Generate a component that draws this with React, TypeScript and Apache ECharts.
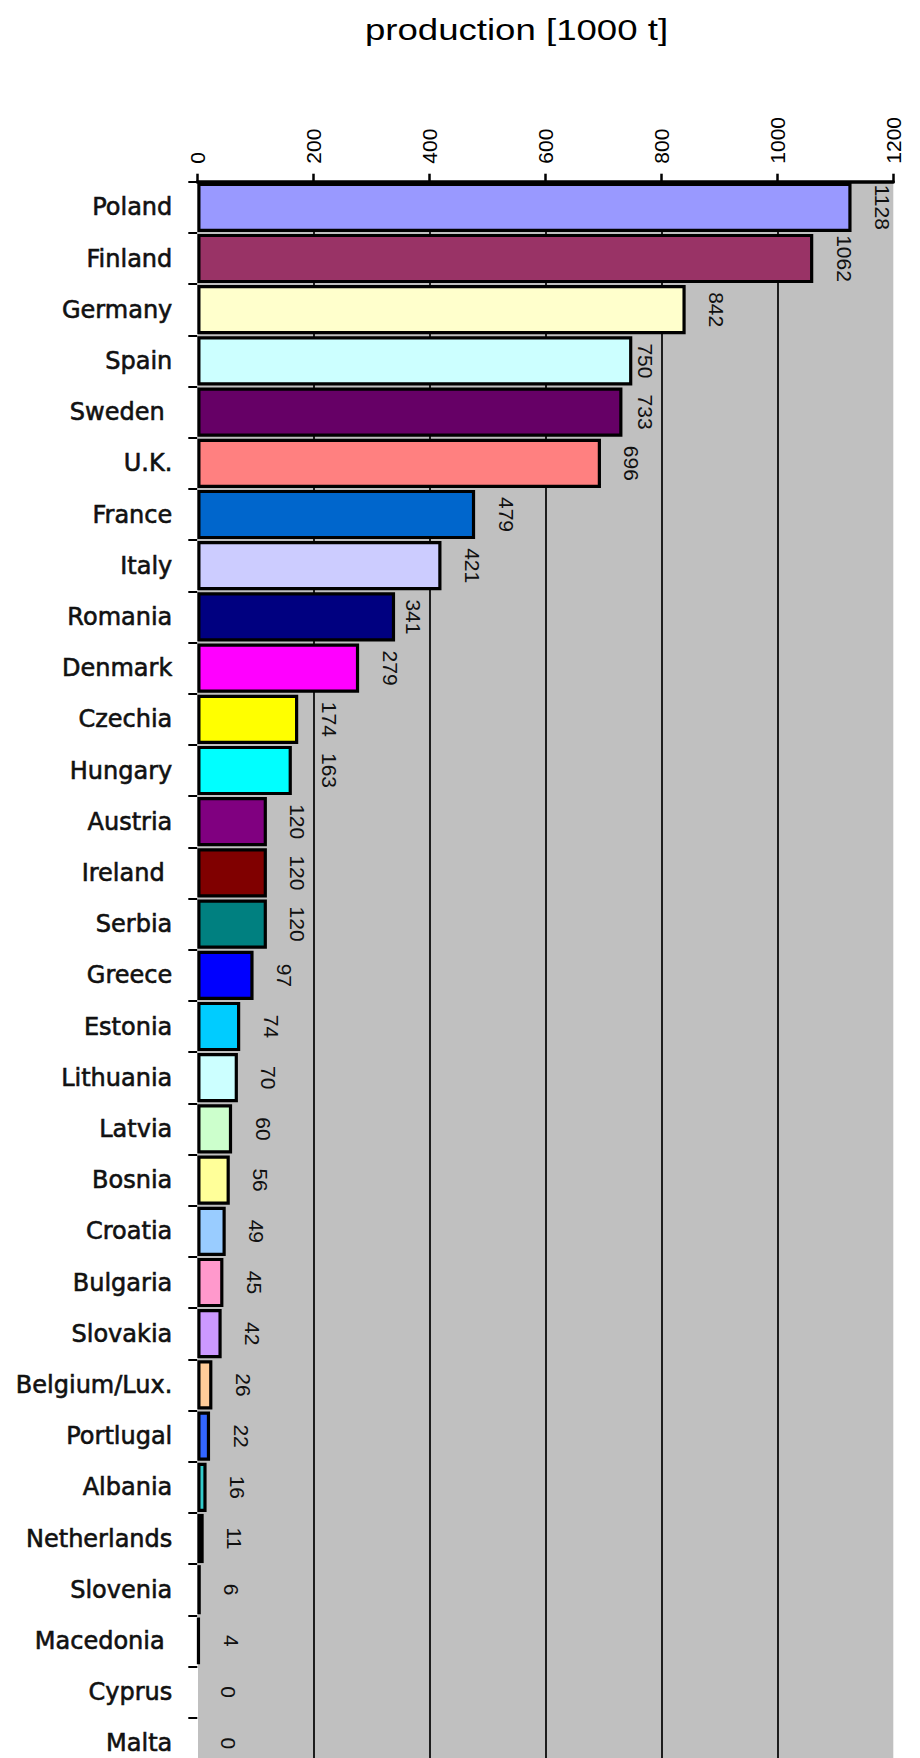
import React, { useEffect, useRef } from "react";
import * as echarts from "echarts";

const categories: string[] = [
  "Poland", "Finland", "Germany", "Spain", "Sweden ", "U.K.", "France", "Italy",
  "Romania", "Denmark", "Czechia", "Hungary", "Austria", "Ireland ", "Serbia",
  "Greece", "Estonia", "Lithuania", "Latvia", "Bosnia", "Croatia", "Bulgaria",
  "Slovakia", "Belgium/Lux.", "Portlugal", "Albania", "Netherlands", "Slovenia",
  "Macedonia ", "Cyprus", "Malta",
];

const values: number[] = [
  1128, 1062, 842, 750, 733, 696, 479, 421, 341, 279, 174, 163, 120, 120, 120,
  97, 74, 70, 60, 56, 49, 45, 42, 26, 22, 16, 11, 6, 4, 0, 0,
];

const colors: string[] = [
  "#9999ff", "#993366", "#ffffcc", "#ccffff", "#660066", "#ff8080", "#0066cc", "#ccccff",
  "#000080", "#ff00ff", "#ffff00", "#00ffff", "#800080", "#800000", "#008080",
  "#0000ff", "#00ccff", "#ccffff", "#ccffcc", "#ffff99", "#99ccff", "#ff99cc",
  "#cc99ff", "#ffcc99", "#3366ff", "#33cccc", "#99cc00", "#ffcc00",
  "#ff9900", "#ff6600", "#666699",
];

const xMin = 0;
const xMax = 1200;
const xInterval = 200;
const title = "production [1000 t]";

// layout constants (pixels)
const GRID_LEFT = 197.3;
const GRID_TOP = 181.7;
const GRID_WIDTH = 696;
const BAND = 51.2;
const LABEL_DIST = 31;

// keep value labels from sitting on a gridline (as the original software did)
function labelDistance(v: number): number {
  const pxPerUnit = GRID_WIDTH / (xMax - xMin);
  const center = (v - xMin) * pxPerUnit + LABEL_DIST;
  let best = LABEL_DIST;
  for (let g = xMin + xInterval; g < xMax; g += xInterval) {
    const gp = (g - xMin) * pxPerUnit;
    const diff = center - gp;
    if (Math.abs(diff) < 12) {
      const target = diff > 5 ? gp + 16 : gp - 16;
      best = target - (v - xMin) * pxPerUnit;
    }
  }
  return best;
}

export default function App() {
  const ref = useRef<HTMLDivElement>(null);

  useEffect(() => {
    if (!ref.current) return;
    const chart = echarts.init(ref.current, null, { renderer: "svg" });
    chart.setOption({
      animation: false,
      backgroundColor: "#ffffff",
      graphic: [
        {
          type: "text",
          x: 516.5,
          y: 30,
          scaleX: 1.22,
          style: {
            text: title,
            x: 0,
            y: 0,
            fontSize: 30,
            fontFamily: "'Liberation Sans', Arial, sans-serif",
            fill: "#000",
            align: "center",
            verticalAlign: "middle",
          },
        },
      ],
      grid: {
        left: GRID_LEFT,
        top: GRID_TOP,
        width: GRID_WIDTH,
        height: BAND * categories.length,
        show: true,
        backgroundColor: "#c0c0c0",
        borderWidth: 0,
        containLabel: false,
        outerBoundsMode: "none",
      },
      xAxis: {
        type: "value",
        position: "top",
        min: xMin,
        max: xMax,
        interval: xInterval,
        axisLine: { show: true, lineStyle: { color: "#000", width: 3.5 } },
        axisTick: { show: true, length: 8, lineStyle: { color: "#000", width: 2.5 } },
        axisLabel: {
          rotate: -90,
          margin: 18,
          fontSize: 21,
          fontFamily: "'Liberation Sans', Arial, sans-serif",
          color: "#000",
          formatter: (v: number) => String(v),
        },
        splitLine: {
          show: true,
          showMinLine: false,
          showMaxLine: false,
          lineStyle: { color: "#000", width: 1.7 },
        },
      },
      yAxis: {
        type: "category",
        data: categories,
        inverse: true,
        axisLine: { show: true, lineStyle: { color: "#ffffff", width: 1 } },
        axisTick: { show: true, length: 9, lineStyle: { color: "#000", width: 2 } },
        axisLabel: {
          margin: 25,
          fontSize: 24,
          fontFamily: "'DejaVu Sans', sans-serif",
          color: "#111",
          textBorderColor: "#111",
          textBorderWidth: 0.6,
        },
      },
      series: [
        {
          type: "bar",
          barCategoryGap: "4%",
          data: values.map((v, i) => ({
            value: v,
            itemStyle: {
              color: colors[i],
              borderColor: "#000",
              borderWidth: v === 0 ? 0 : 3.2,
            },
            label: { distance: labelDistance(v) },
          })),
          label: {
            show: true,
            position: "right",
            distance: LABEL_DIST,
            rotate: -90,
            align: "center",
            verticalAlign: "middle",
            fontSize: 21,
            fontFamily: "'Liberation Sans', Arial, sans-serif",
            color: "#111",
          },
        },
      ],
    });
    return () => chart.dispose();
  }, []);

  return (
    <div
      ref={ref}
      style={{ position: "absolute", left: 0, top: 0, width: 920, height: 1758, background: "#fff" }}
    />
  );
}
